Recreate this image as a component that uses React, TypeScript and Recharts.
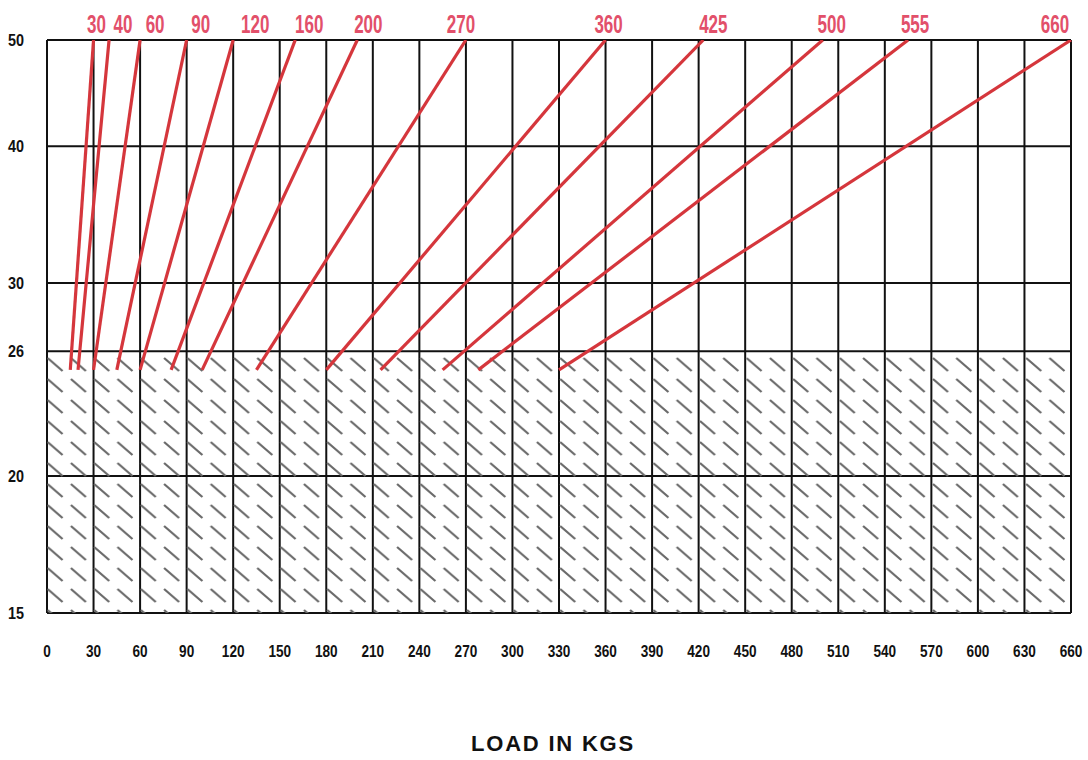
import React from 'react';
import { LineChart, Line, XAxis, YAxis, CartesianGrid, ReferenceArea } from 'recharts';

// load in kgs along the bottom, 0..660 every 30
const loadTicks = [0, 30, 60, 90, 120, 150, 180, 210, 240, 270, 300, 330, 360, 390, 420, 450, 480, 510, 540, 570, 600, 630, 660];
// vertical scale (log spaced in the original)
const heightTicks = [15, 20, 26, 30, 40, 50];

// each red line: its label, load at the top and load where it starts at the bottom
const lineLabels = ['30', '40', '60', '90', '120', '160', '200', '270', '360', '425', '500', '555', '660'];
const topLoads = [30, 40, 60, 90, 120, 160, 200, 270, 360, 423, 500, 555, 660];
const baseLoads = [15, 20, 30, 45, 60, 80, 100, 135, 180, 215, 255, 278, 330];
const baseHeight = 25;
const topHeight = 50;

// hatched (not usable) zone
const hatchFrom = 15;
const hatchTo = 26;

const RED = '#d5363c';
const LABEL_RED = '#e2506a';
const FONT = '"Liberation Sans", Arial, sans-serif';
// nudges of the red labels relative to the line tops, as in the original
const labelDx = [3, 14, 15, 14, 22, 14, 11, -5, 3, 10, 9, 7, -16];

const series = topLoads.map((top, i) => ({
  name: lineLabels[i],
  data: [
    { load: baseLoads[i], h: baseHeight },
    { load: top, h: topHeight },
  ],
}));

const XTick = (p: any) => (
  <text
    transform={`translate(${p.x},${p.y + 36}) scale(0.8,1)`}
    textAnchor="middle"
    fontFamily={FONT}
    fontWeight="bold"
    fontSize={17}
    fill="#111"
  >
    {p.payload.value}
  </text>
);

const YTick = (p: any) => (
  <text
    transform={`translate(16,${p.y + 6}) scale(0.9,1)`}
    textAnchor="middle"
    fontFamily={FONT}
    fontWeight="bold"
    fontSize={16}
    fill="#111"
  >
    {p.payload.value}
  </text>
);

const topLabel = (text: string, dx: number) => (p: any) => {
  if (p.index !== 1) return <g />;
  return (
    <text
      transform={`translate(${p.x + dx},33) scale(0.68,1)`}
      textAnchor="middle"
      fontFamily={FONT}
      fontWeight="bold"
      fontSize={25}
      fill={LABEL_RED}
    >
      {text}
    </text>
  );
};

const AxisTitle = (p: any) => (
  <text x={553} y={751} textAnchor="middle" fontFamily={FONT} fontWeight="bold" fontSize={22} letterSpacing={1.8} fill="#111">
    LOAD IN KGS
  </text>
);

export default function App() {
  return (
    <div style={{ position: 'absolute', left: 0, top: 0, background: '#fff' }}>
      <LineChart width={1088} height={760} margin={{ top: 40, right: 17, left: 0, bottom: 0 }}>
        <defs>
          <pattern id="hatch" patternUnits="userSpaceOnUse" width={23.3} height={21}>
            <line x1={1} y1={1} x2={16} y2={14} stroke="#6a6a6a" strokeWidth={2.3} />
          </pattern>
        </defs>
        <XAxis
          type="number"
          dataKey="load"
          domain={[0, 660]}
          ticks={loadTicks}
          interval={0}
          tick={XTick}
          tickLine={false}
          axisLine={false}
          height={147}
          allowDuplicatedCategory={false}
          label={<AxisTitle />}
        />
        <YAxis
          type="number"
          dataKey="h"
          scale="log"
          domain={[15, 50]}
          ticks={heightTicks}
          interval={0}
          tick={YTick}
          tickLine={false}
          axisLine={false}
          width={47}
          allowDataOverflow
        />
        <ReferenceArea x1={0} x2={660} y1={hatchFrom} y2={hatchTo} fill="url(#hatch)" fillOpacity={1} stroke="none" ifOverflow="hidden" />
        <CartesianGrid stroke="#111" strokeWidth={2} strokeOpacity={1} />
        {series.map((s, i) => (
          <Line
            key={s.name}
            data={s.data}
            dataKey="h"
            name={s.name}
            stroke={RED}
            strokeWidth={3.2}
            dot={false}
            activeDot={false}
            isAnimationActive={false}
            label={topLabel(s.name, labelDx[i])}
          />
        ))}
      </LineChart>
    </div>
  );
}
